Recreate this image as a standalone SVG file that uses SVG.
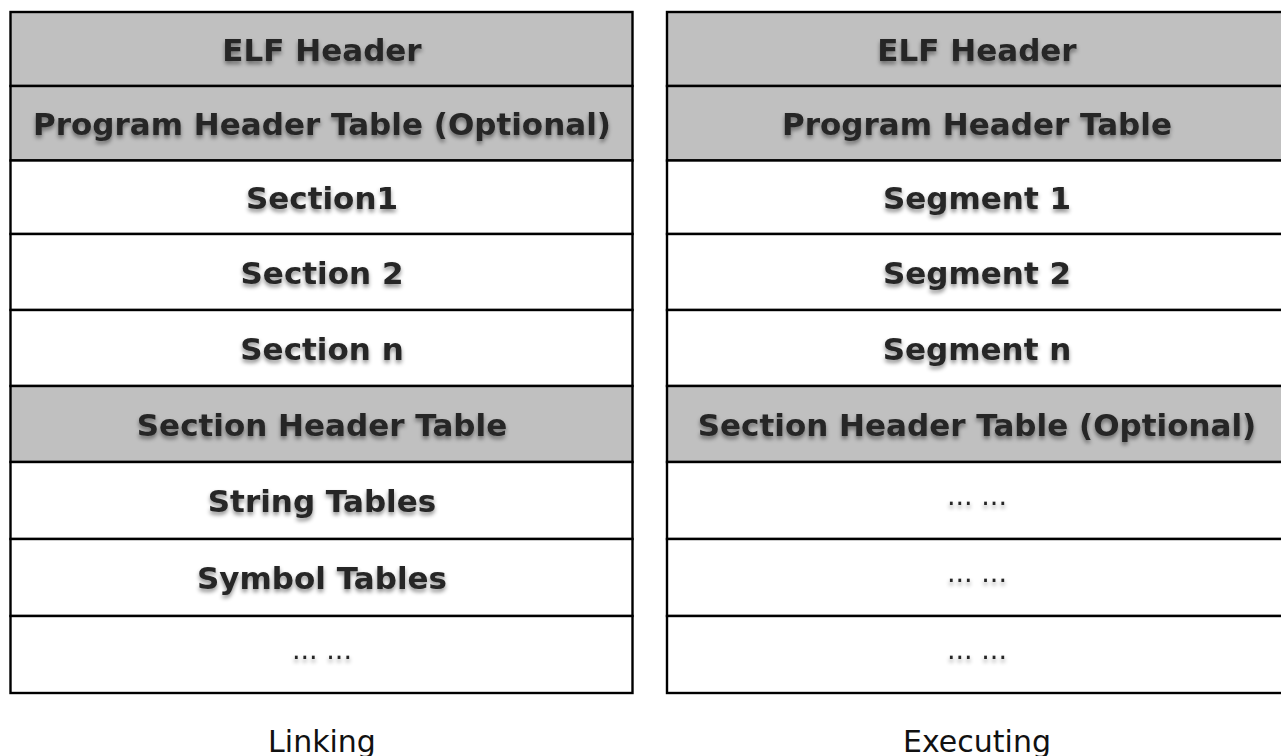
<svg xmlns="http://www.w3.org/2000/svg" width="1281" height="756" viewBox="0 0 1281 756">
  <defs>
    <filter id="shadow" x="-10%" y="-40%" width="120%" height="190%">
      <feDropShadow dx="0" dy="3" stdDeviation="2.2" flood-color="#000" flood-opacity="0.45"/>
    </filter>
  </defs>
  <style>
    .cell { stroke: #000; stroke-width: 2.4; }
    .hdr { fill: #c0c0c0; }
    .plain { fill: #ffffff; }
    .t { font-family: "DejaVu Sans", "Liberation Sans", sans-serif; font-weight: bold; font-size: 31px; fill: #262626; text-anchor: middle; filter: url(#shadow); }
    .dots { font-family: "DejaVu Sans", "Liberation Sans", sans-serif; font-size: 27px; fill: #262626; text-anchor: middle; filter: url(#shadow); }
    .cap { font-family: "DejaVu Sans", "Liberation Sans", sans-serif; font-size: 30px; fill: #111; text-anchor: middle; }
  </style>
  <rect width="1281" height="756" fill="#ffffff"/>

  <g id="linking-table">
    <g id="l-elf-header"><rect class="cell hdr" x="10.5" y="12" width="622" height="74"/><text class="t" x="322" y="60.5">ELF Header</text></g>
    <g id="l-program-header-table"><rect class="cell hdr" x="10.5" y="86" width="622" height="74.5"/><text class="t" x="322" y="134.8">Program Header Table (Optional)</text></g>
    <g id="l-section1"><rect class="cell plain" x="10.5" y="160.5" width="622" height="73.5"/><text class="t" x="322" y="208.8">Section1</text></g>
    <g id="l-section2"><rect class="cell plain" x="10.5" y="234" width="622" height="76"/><text class="t" x="322" y="283.5">Section 2</text></g>
    <g id="l-section-n"><rect class="cell plain" x="10.5" y="310" width="622" height="76"/><text class="t" x="322" y="359.5">Section n</text></g>
    <g id="l-section-header-table"><rect class="cell hdr" x="10.5" y="386" width="622" height="76"/><text class="t" x="322" y="435.5">Section Header Table</text></g>
    <g id="l-string-tables"><rect class="cell plain" x="10.5" y="462" width="622" height="77"/><text class="t" x="322" y="512">String Tables</text></g>
    <g id="l-symbol-tables"><rect class="cell plain" x="10.5" y="539" width="622" height="77"/><text class="t" x="322" y="589">Symbol Tables</text></g>
    <g id="l-more"><rect class="cell plain" x="10.5" y="616" width="622" height="77"/><text class="dots" x="322" y="659">... ...</text></g>
  </g>

  <g id="executing-table">
    <g id="r-elf-header"><rect class="cell hdr" x="667" y="12" width="624" height="74"/><text class="t" x="977" y="60.5">ELF Header</text></g>
    <g id="r-program-header-table"><rect class="cell hdr" x="667" y="86" width="624" height="74.5"/><text class="t" x="977" y="134.8">Program Header Table</text></g>
    <g id="r-segment1"><rect class="cell plain" x="667" y="160.5" width="624" height="73.5"/><text class="t" x="977" y="208.8">Segment 1</text></g>
    <g id="r-segment2"><rect class="cell plain" x="667" y="234" width="624" height="76"/><text class="t" x="977" y="283.5">Segment 2</text></g>
    <g id="r-segment-n"><rect class="cell plain" x="667" y="310" width="624" height="76"/><text class="t" x="977" y="359.5">Segment n</text></g>
    <g id="r-section-header-table"><rect class="cell hdr" x="667" y="386" width="624" height="76"/><text class="t" x="977" y="435.5">Section Header Table (Optional)</text></g>
    <g id="r-more1"><rect class="cell plain" x="667" y="462" width="624" height="77"/><text class="dots" x="977" y="505">... ...</text></g>
    <g id="r-more2"><rect class="cell plain" x="667" y="539" width="624" height="77"/><text class="dots" x="977" y="582">... ...</text></g>
    <g id="r-more3"><rect class="cell plain" x="667" y="616" width="624" height="77"/><text class="dots" x="977" y="659">... ...</text></g>
  </g>

  <g id="connectors"></g>

  <g id="captions">
    <text class="cap" x="322" y="752">Linking</text>
    <text class="cap" x="977" y="752">Executing</text>
  </g>
</svg>
